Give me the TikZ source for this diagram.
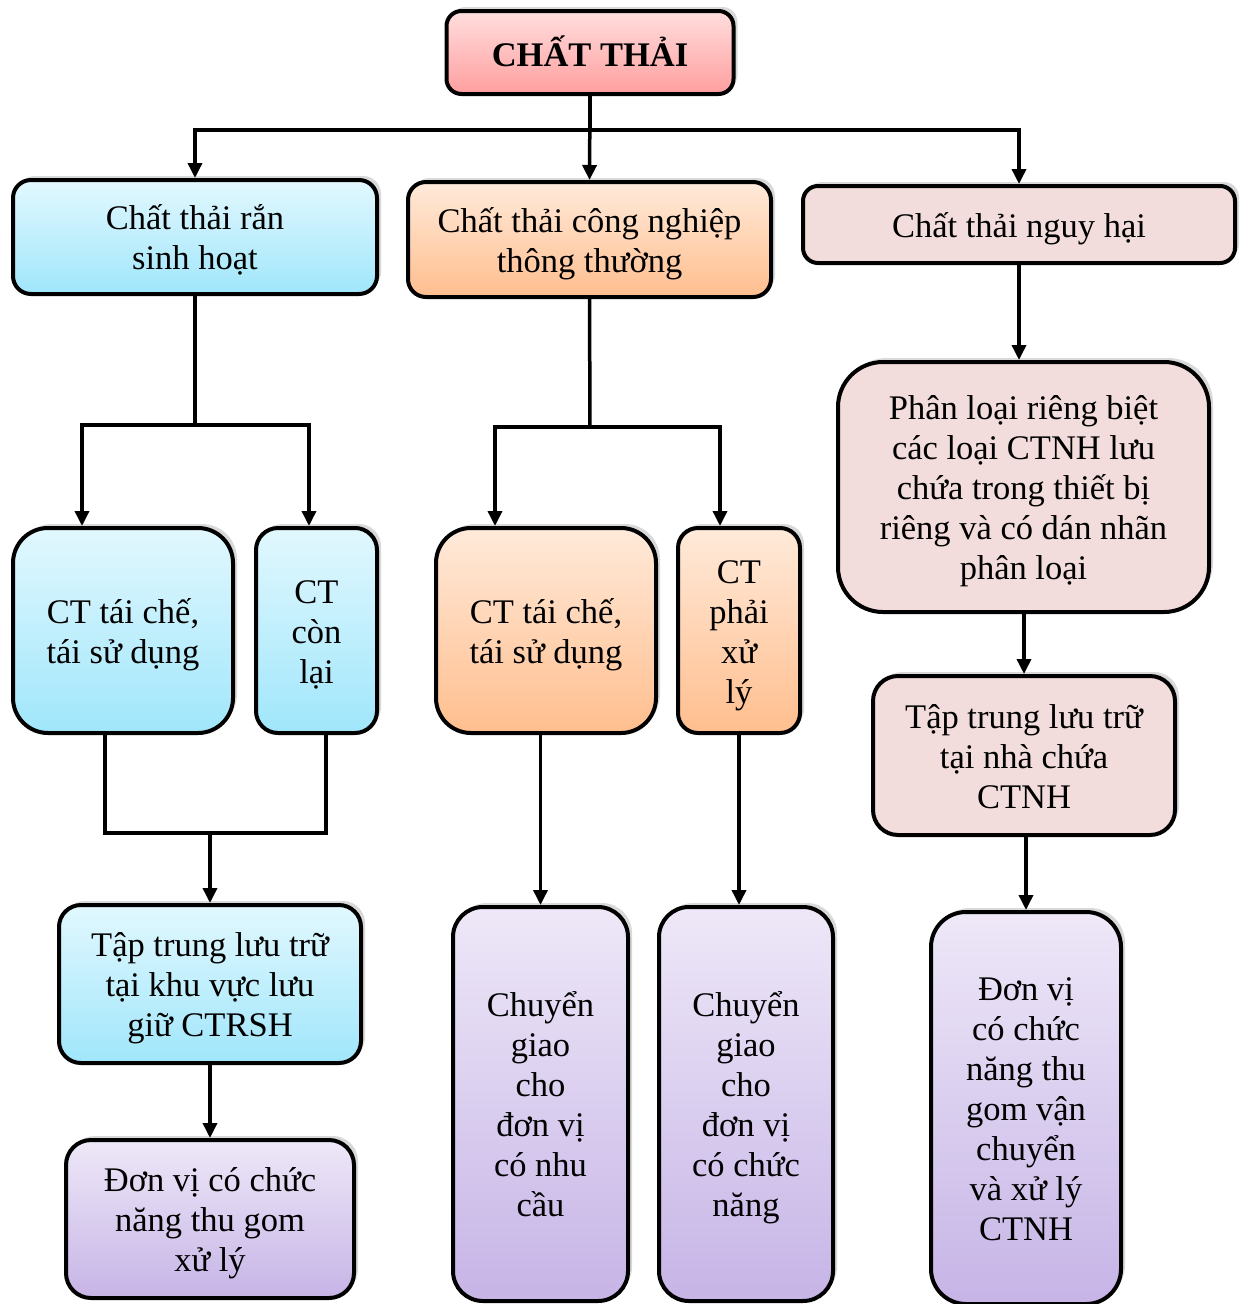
\documentclass[tikz,border=0pt]{standalone}
\usepackage{fontspec}
\setmainfont{Liberation Serif}
\usetikzlibrary{arrows.meta,shadows}
\definecolor{bluetop}{RGB}{226,248,254}
\definecolor{bluebot}{RGB}{160,230,251}
\definecolor{orgtop}{RGB}{255,234,218}
\definecolor{orgbot}{RGB}{255,190,142}
\definecolor{pinktop}{RGB}{255,222,222}
\definecolor{pinkbot}{RGB}{255,158,158}
\definecolor{rosy}{RGB}{242,221,220}
\definecolor{purtop}{RGB}{238,232,248}
\definecolor{purbot}{RGB}{198,180,230}
\newcommand\tx[1]{\raisebox{-4.5pt}[\height][\depth]{\begin{tabular}{@{}c@{}}#1\end{tabular}}}
\tikzset{
  box/.style={draw=black, line width=4pt, inner sep=2pt,
    font=\fontsize{34.5}{40}\selectfont,
    drop shadow={opacity=0.3, shadow xshift=4pt, shadow yshift=4pt}},
  bluebox/.style={box, top color=bluetop, bottom color=bluebot},
  orgbox/.style={box, top color=orgtop, bottom color=orgbot},
  pinkbox/.style={box, top color=pinktop, bottom color=pinkbot},
  rosybox/.style={box, fill=rosy},
  purbox/.style={box, top color=purtop, bottom color=purbot},
  wire/.style={line width=3.5pt, line join=miter},
  arr/.style={wire, -{Triangle[length=15pt,width=14pt]}},
}
\begin{document}
\begin{tikzpicture}[x=1pt,y=-1pt]
\useasboundingbox (0,0) rectangle (1240,1304);
% nodes
\node[pinkbox, rounded corners=15pt, minimum width=287pt, minimum height=83pt, font=\fontsize{34.5}{40}\selectfont\bfseries] (t) at (590,52.5) {\tx{CHẤT THẢI}};
\node[bluebox, rounded corners=18pt, minimum width=364pt, minimum height=114pt] (b1) at (195,237) {\tx{Chất thải rắn\\sinh hoạt}};
\node[orgbox, rounded corners=18pt, minimum width=363pt, minimum height=115pt] (b2) at (589.5,239.5) {\tx{Chất thải công nghiệp\\thông thường}};
\node[rosybox, rounded corners=15pt, minimum width=432pt, minimum height=77pt] (b3) at (1019,224.5) {\tx{Chất thải nguy hại}};
\node[bluebox, rounded corners=35pt, minimum width=220pt, minimum height=205pt] (b4) at (123,630.5) {\tx{CT tái chế,\\tái sử dụng}};
\node[bluebox, rounded corners=22pt, minimum width=121pt, minimum height=205pt] (b5) at (316.5,630.5) {\tx{CT\\còn\\lại}};
\node[bluebox, rounded corners=22pt, minimum width=302pt, minimum height=158pt] (b6) at (210,984) {\tx{Tập trung lưu trữ\\tại khu vực lưu\\giữ CTRSH}};
\node[purbox, rounded corners=25pt, minimum width=288pt, minimum height=158pt] (b7) at (210,1219) {\tx{Đơn vị có chức\\năng thu gom\\xử lý}};
\node[orgbox, rounded corners=35pt, minimum width=220pt, minimum height=205pt] (b8) at (546,630.5) {\tx{CT tái chế,\\tái sử dụng}};
\node[orgbox, rounded corners=20pt, minimum width=122pt, minimum height=205pt] (b9) at (739,630.5) {\tx{CT\\phải\\xử\\lý}};
\node[purbox, rounded corners=30pt, minimum width=175pt, minimum height=394pt] (b10) at (540.5,1104) {\tx{Chuyển\\giao\\cho\\đơn vị\\có nhu\\cầu}};
\node[purbox, rounded corners=30pt, minimum width=174pt, minimum height=394pt] (b11) at (746,1104) {\tx{Chuyển\\giao\\cho\\đơn vị\\có chức\\năng}};
\node[rosybox, rounded corners=45pt, minimum width=371pt, minimum height=250pt] (b12) at (1023.5,487) {\tx{Phân loại riêng biệt\\các loại CTNH lưu\\chứa trong thiết bị\\riêng và có dán nhãn\\phân loại}};
\node[rosybox, rounded corners=25pt, minimum width=302pt, minimum height=159pt] (b13) at (1024,755.5) {\tx{Tập trung lưu trữ\\tại nhà chứa\\CTNH}};
\node[purbox, rounded corners=35pt, minimum width=190pt, minimum height=392pt] (b14) at (1026,1108) {\tx{Đơn vị\\có chức\\năng thu\\gom vận\\chuyển\\và xử lý\\CTNH}};
% junctions
\coordinate (j0) at (590,130);
\coordinate (j1) at (195,425);
\coordinate (j1l) at (82,425);
\coordinate (j1r) at (309,425);
\coordinate (m1) at (105,833);
\coordinate (m2) at (326,833);
\coordinate (j2) at (590,427);
\coordinate (j2l) at (495,427);
\coordinate (j2r) at (720,427);
% connectors
\draw[wire] (t.south) -- (j0);
\draw[arr] (j0) -| (b1.north);
\draw[arr] (t.south) -- (b2.north);
\draw[arr] (j0) -| (b3.north);
\draw[wire] (b1.south) -- (j1);
\draw[arr] (j1) -- (j1l) -- (j1l |- b4.north);
\draw[arr] (j1) -- (j1r) -- (j1r |- b5.north);
\draw[wire] (m1 |- b4.south) -- (m1) -- (m2) -- (m2 |- b5.south);
\draw[arr] (m1 -| b6.north) -- (b6.north);
\draw[arr] (b6.south) -- (b7.north);
\draw[wire] (b2.south) -- (j2);
\draw[arr] (j2) -- (j2l) -- (j2l |- b8.north);
\draw[arr] (j2) -- (j2r) -- (j2r |- b9.north);
\draw[arr] (b10.north |- b8.south) -- (b10.north);
\draw[arr] (b9.south) -- (b9.south |- b11.north);
\draw[arr] (b3.south) -- (b3.south |- b12.north);
\draw[arr] (b13.north |- b12.south) -- (b13.north);
\draw[arr] (b14.north |- b13.south) -- (b14.north);
\end{tikzpicture}
\end{document}
